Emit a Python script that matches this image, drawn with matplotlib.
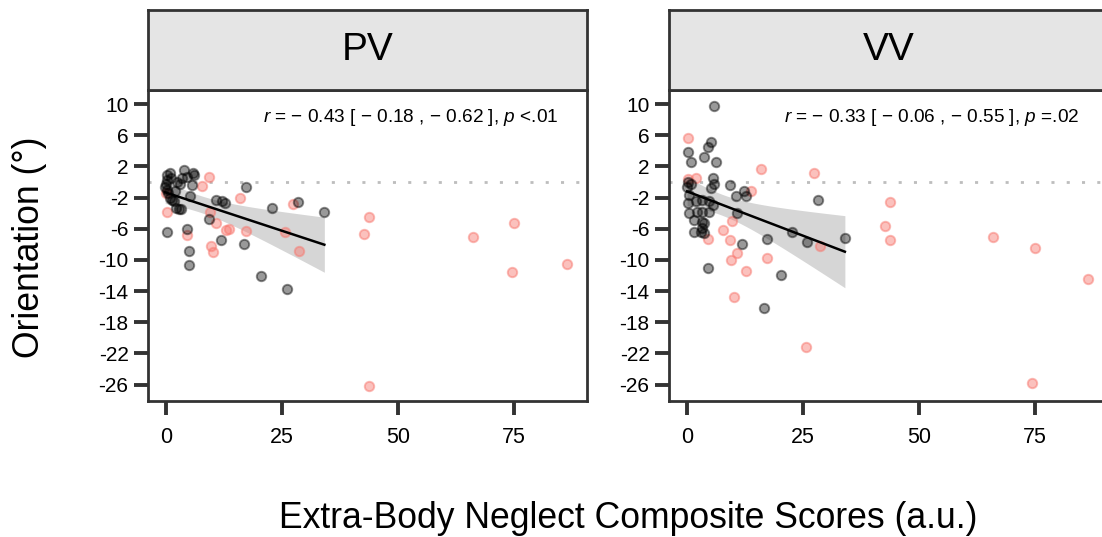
import numpy as np
import matplotlib
matplotlib.use("Agg")
import matplotlib.pyplot as plt

plt.rcParams['font.family'] = ['Liberation Sans', 'DejaVu Sans']
plt.rcParams['mathtext.fontset'] = 'custom'
plt.rcParams['mathtext.rm'] = 'Liberation Sans'
plt.rcParams['mathtext.it'] = 'Liberation Sans:italic'

# ---------------- data ----------------
panels = ["PV", "VV"]
stats_text = [r"$r$ = − 0.43 [ − 0.18 , − 0.62 ], $p$ <.01",
              r"$r$ = − 0.33 [ − 0.06 , − 0.55 ], $p$ =.02"]

pv_black_x = [0.1, 0.9, 1.1, 3.9, 5.9, 6.1, 3.4, 4.5, 5.5, -0.2, 0.1, 0.5, 0.9, 1.6,
              2.3, 3.0, 1.9, 2.7, 3.2, 5.2, 0.0, 0.2, 1.3, 2.2,
              0.1, 4.6, 5.0, 5.0, 9.3, 11.9, 10.8, 12.0, 12.7, 17.2, 16.7, 22.8,
              28.4, 34.1, 20.4, 26.0]
pv_black_y = [0.9, 1.1, 0.5, 1.6, 1.1, 0.9, 0.5, 0.7, -0.4, -0.6, -1.0, -1.45, -2.1, -2.5,
              0.0, -0.2, -1.2, -3.5, -3.5, -1.75, -0.3, 0.3, -2.3, -3.3,
              -6.4, -6.0, -8.85, -10.7, -4.8, -7.4, -2.3, -2.4, -2.7, -0.6, -8.0, -3.3,
              -2.6, -3.9, -12.0, -13.7]

pv_red_x = [9.3, 7.8, 15.9, 0.3, 4.5, 9.5, 10.8, 12.9, 13.6, 17.2, 9.7, 10.1, 25.6,
            28.7, 27.3, 0.0, 43.75, 42.6, 66.1, 74.9, 74.5, 86.4, 43.75]
pv_red_y = [0.6, -0.5, -2.0, -3.9, -6.8, -3.9, -5.2, -6.15, -6.0, -6.3, -8.2, -9.0, -6.4,
            -8.85, -2.8, -1.4, -4.5, -6.7, -7.1, -5.3, -11.6, -10.5, -26.2]

vv_black_x = [5.8, 0.2, 0.8, 3.7, 4.4, 5.1, 6.3, 5.6, 5.8, 5.1, 9.3, 10.6, 12.3, 12.8,
              28.2, 0.1, 0.8, 0.4, 0.1, 0.4, 1.9, 3.3, 4.7, 5.5, 2.2, 3.3, 4.7, 1.5,
              3.3, 3.7, 1.5, 2.9, 3.3, 3.7, 10.8, 11.8, 17.2, 22.7, 25.9, 34.0, 4.4,
              20.3, 16.6, 0.0]
vv_black_y = [9.8, 3.8, 2.6, 3.2, 4.5, 5.1, 2.5, 0.5, -0.3, -0.8, -0.4, -1.75, -1.15, -1.75,
              -2.35, 0.0, -0.3, -1.7, -2.7, -4.0, -2.5, -2.3, -2.5, -2.9, -3.8, -3.8, -3.8, -4.9,
              -5.1, -5.3, -6.4, -6.4, -5.9, -6.6, -4.0, -7.9, -7.3, -6.4, -7.65, -7.2, -11.1,
              -11.9, -16.2, -0.6]

vv_red_x = [0.1, 0.1, 1.9, 15.9, 27.4, 13.7, 9.6, 7.8, 4.4, 9.2, 10.7, 9.5, 17.2, 12.8,
            10.0, 28.6, 25.6, 43.7, 42.6, 43.7, 66.0, 74.9, 86.3, 74.4]
vv_red_y = [5.6, 0.4, 0.55, 1.65, 1.1, -1.15, -4.95, -6.2, -7.3, -7.5, -9.15, -10.0, -9.8,
            -11.4, -14.7, -8.2, -21.2, -2.6, -5.6, -7.5, -7.05, -8.5, -12.4, -25.8]

y_ticks = [10, 6, 2, -2, -6, -10, -14, -18, -22, -26]
x_ticks = [0, 25, 50, 75]

black_sets = [(pv_black_x, pv_black_y), (vv_black_x, vv_black_y)]
red_sets = [(pv_red_x, pv_red_y), (vv_red_x, vv_red_y)]

# ---------------- figure ----------------
W, H = 1102, 537
fig = plt.figure(figsize=(W / 100, H / 100), dpi=100)

frame_col = "#333333"
ax_w = 439 / W
ax_h = 311 / H
ax_b = 1 - 401 / H
strip_h = 80 / H
lefts = [148 / W, 669 / W]

for i, name in enumerate(panels):
    ax = fig.add_axes([lefts[i], ax_b, ax_w, ax_h])
    ax.set_xlim(-3.9, 90.7)
    ax.set_ylim(-28.1, 11.8)

    ax.axhline(0, color="#bdbdbd", lw=2.0, linestyle=(0, (1.1, 4.4)), zorder=1)

    bx = np.array(black_sets[i][0]); by = np.array(black_sets[i][1])
    rx = np.array(red_sets[i][0]); ry = np.array(red_sets[i][1])

    ax.scatter(rx, ry, s=46, facecolor=(0.973, 0.463, 0.427, 0.45),
               edgecolor=(0.973, 0.463, 0.427, 0.5), linewidth=1.4, zorder=3)
    ax.scatter(bx, by, s=46, facecolor=(0, 0, 0, 0.4),
               edgecolor=(0, 0, 0, 0.45), linewidth=1.4, zorder=4)

    # linear fit with 95% CI on black group
    n = len(bx)
    X = np.vstack([np.ones(n), bx]).T
    beta, *_ = np.linalg.lstsq(X, by, rcond=None)
    resid = by - X @ beta
    s2 = resid @ resid / (n - 2)
    xs = np.linspace(bx.min(), bx.max(), 100)
    Xs = np.vstack([np.ones_like(xs), xs]).T
    cov = s2 * np.linalg.inv(X.T @ X)
    se = np.sqrt(np.einsum('ij,jk,ik->i', Xs, cov, Xs))
    yhat = Xs @ beta
    tq = 2.02
    ax.fill_between(xs, yhat - tq * se, yhat + tq * se, color="#999999", alpha=0.4,
                    lw=0, zorder=2)
    ax.plot(xs, yhat, color="black", lw=1.8, zorder=5)

    ax.set_xticks(x_ticks)
    ax.set_yticks(y_ticks)
    ax.set_yticklabels([str(t) for t in y_ticks])
    ax.tick_params(axis='y', labelsize=15, length=10, width=2.8, color=frame_col, pad=4)
    ax.tick_params(axis='x', labelsize=15.5, length=10, width=2.8, color=frame_col, pad=9)
    for sp in ax.spines.values():
        sp.set_color(frame_col)
        sp.set_linewidth(2.0)

    ax.text(0.935, 0.945, stats_text[i], transform=ax.transAxes, ha='right', va='top',
            fontsize=13.7)

    # strip
    sax = fig.add_axes([lefts[i], ax_b + ax_h, ax_w, strip_h])
    sax.set_facecolor("#e5e5e5")
    sax.set_xticks([]); sax.set_yticks([])
    for sp in sax.spines.values():
        sp.set_color(frame_col)
        sp.set_linewidth(2.0)
    sax.text(0.5, 0.5, name, transform=sax.transAxes, ha='center', va='center',
             fontsize=28)

fig.text(30 / W, 1 - 247 / H, "Orientation (°)", rotation=90, ha='center', va='center',
         fontsize=25.6)
fig.text(628 / W, 1 - 519 / H, "Extra-Body Neglect Composite Scores (a.u.)",
         ha='center', va='center', fontsize=25.6)

fig.savefig("out.png", dpi=100)
